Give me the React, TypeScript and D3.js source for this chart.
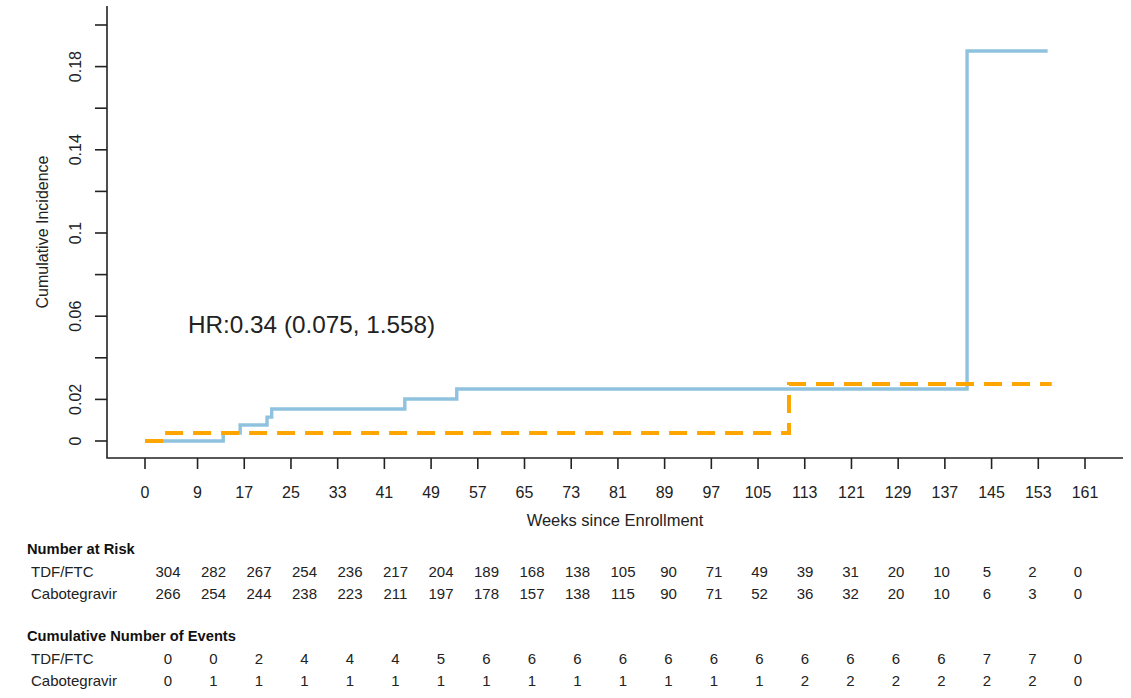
import React from "react";
import * as d3 from "d3";

// ---- data ----
const xTicks = [0, 9, 17, 25, 33, 41, 49, 57, 65, 73, 81, 89, 97, 105, 113, 121, 129, 137, 145, 153, 161];
const yTicks = [0, 0.02, 0.04, 0.06, 0.08, 0.1, 0.12, 0.14, 0.16, 0.18, 0.2];
const yTickLabels = ["0", "0.02", "", "0.06", "", "0.1", "", "0.14", "", "0.18", ""];

const tdfWeeks = [0, 13.4, 16.3, 20.9, 21.7, 44.5, 53.4, 140.8, 154.6];
const tdfIncidence = [0, 0.0038, 0.0077, 0.0115, 0.0154, 0.0202, 0.025, 0.1875, 0.1875];
const cabWeeks = [0, 3.1, 110.3, 155.3];
const cabIncidence = [0, 0.0038, 0.0274, 0.0274];

const groups = ["TDF/FTC", "Cabotegravir"];
const tdfAtRisk = [304, 282, 267, 254, 236, 217, 204, 189, 168, 138, 105, 90, 71, 49, 39, 31, 20, 10, 5, 2, 0];
const cabAtRisk = [266, 254, 244, 238, 223, 211, 197, 178, 157, 138, 115, 90, 71, 52, 36, 32, 20, 10, 6, 3, 0];
const tdfEvents = [0, 0, 2, 4, 4, 4, 5, 6, 6, 6, 6, 6, 6, 6, 6, 6, 6, 6, 7, 7, 0];
const cabEvents = [0, 1, 1, 1, 1, 1, 1, 1, 1, 1, 1, 1, 1, 1, 2, 2, 2, 2, 2, 2, 0];

const hrText = "HR:0.34 (0.075, 1.558)";

const FONT = "'Liberation Sans', Arial, sans-serif";

export default function App() {
  const W = 1131, H = 698;
  const x = d3.scaleLinear().domain([0, 161]).range([145, 1085]);
  const y = d3.scaleLinear().domain([0, 0.2]).range([441, 25]);
  const axisLeft = 107, axisBottom = 458, plotTop = 6, plotRight = 1123;

  const line = d3
    .line<[number, number]>()
    .x((d) => x(d[0]))
    .y((d) => y(d[1]))
    .curve(d3.curveStepAfter);

  const tdfPath = line(tdfWeeks.map((w, i) => [w, tdfIncidence[i]] as [number, number])) || "";
  const cabPath = line(cabWeeks.map((w, i) => [w, cabIncidence[i]] as [number, number])) || "";

  const col = d3.scaleLinear().domain([0, xTicks.length - 1]).range([168, 1078]);

  const rows = [
    { title: "Number at Risk", titleY: 554, data: [tdfAtRisk, cabAtRisk], ys: [577, 599] },
    { title: "Cumulative Number of Events", titleY: 641, data: [tdfEvents, cabEvents], ys: [664, 686] },
  ];

  return (
    <svg
      width={W}
      height={H}
      style={{ position: "absolute", left: 0, top: 0, background: "#fff" }}
      fontFamily={FONT}
    >
      <rect x={0} y={0} width={W} height={H} fill="#fff" />
      {/* axes L box */}
      <path
        d={`M${axisLeft},${plotTop}V${axisBottom}H${plotRight}`}
        fill="none"
        stroke="#222"
        strokeWidth={1.6}
      />
      {/* y ticks */}
      {yTicks.map((t, i) => (
        <g key={"y" + i}>
          <line x1={axisLeft} x2={axisLeft - 12} y1={y(t)} y2={y(t)} stroke="#222" strokeWidth={1.6} />
          {yTickLabels[i] && (
            <text
              transform={`translate(81,${y(t)}) rotate(-90)`}
              textAnchor="middle"
              fontSize={16}
              fill="#222"
            >
              {yTickLabels[i]}
            </text>
          )}
        </g>
      ))}
      <text
        transform={`translate(48,${(plotTop + axisBottom) / 2}) rotate(-90)`}
        textAnchor="middle"
        fontSize={16}
        fill="#222"
      >
        Cumulative Incidence
      </text>
      {/* x ticks */}
      {xTicks.map((t) => (
        <g key={"x" + t}>
          <line x1={x(t)} x2={x(t)} y1={axisBottom} y2={axisBottom + 11} stroke="#222" strokeWidth={1.6} />
          <text x={x(t)} y={498} textAnchor="middle" fontSize={16} fill="#222">
            {t}
          </text>
        </g>
      ))}
      <text x={(axisLeft + plotRight) / 2} y={526} textAnchor="middle" fontSize={16.5} fill="#222">
        Weeks since Enrollment
      </text>

      {/* curves */}
      <path d={tdfPath} fill="none" stroke="#8fc2de" strokeWidth={3.4} />
      <path d={cabPath} fill="none" stroke="#FFA500" strokeWidth={4} strokeDasharray="18 10" />

      <text x={188} y={333} fontSize={24.3} fill="#222">
        {hrText}
      </text>

      {/* risk table */}
      {rows.map((r) => (
        <g key={r.title}>
          <text x={27} y={r.titleY} fontSize={14.7} fontWeight="bold" fill="#111">
            {r.title}
          </text>
          {groups.map((g, gi) => (
            <g key={g}>
              <text x={31} y={r.ys[gi]} fontSize={15} fill="#222">
                {g}
              </text>
              {r.data[gi].map((v, i) => (
                <text key={i} x={col(i)} y={r.ys[gi]} textAnchor="middle" fontSize={15} fill="#222">
                  {v}
                </text>
              ))}
            </g>
          ))}
        </g>
      ))}
    </svg>
  );
}
